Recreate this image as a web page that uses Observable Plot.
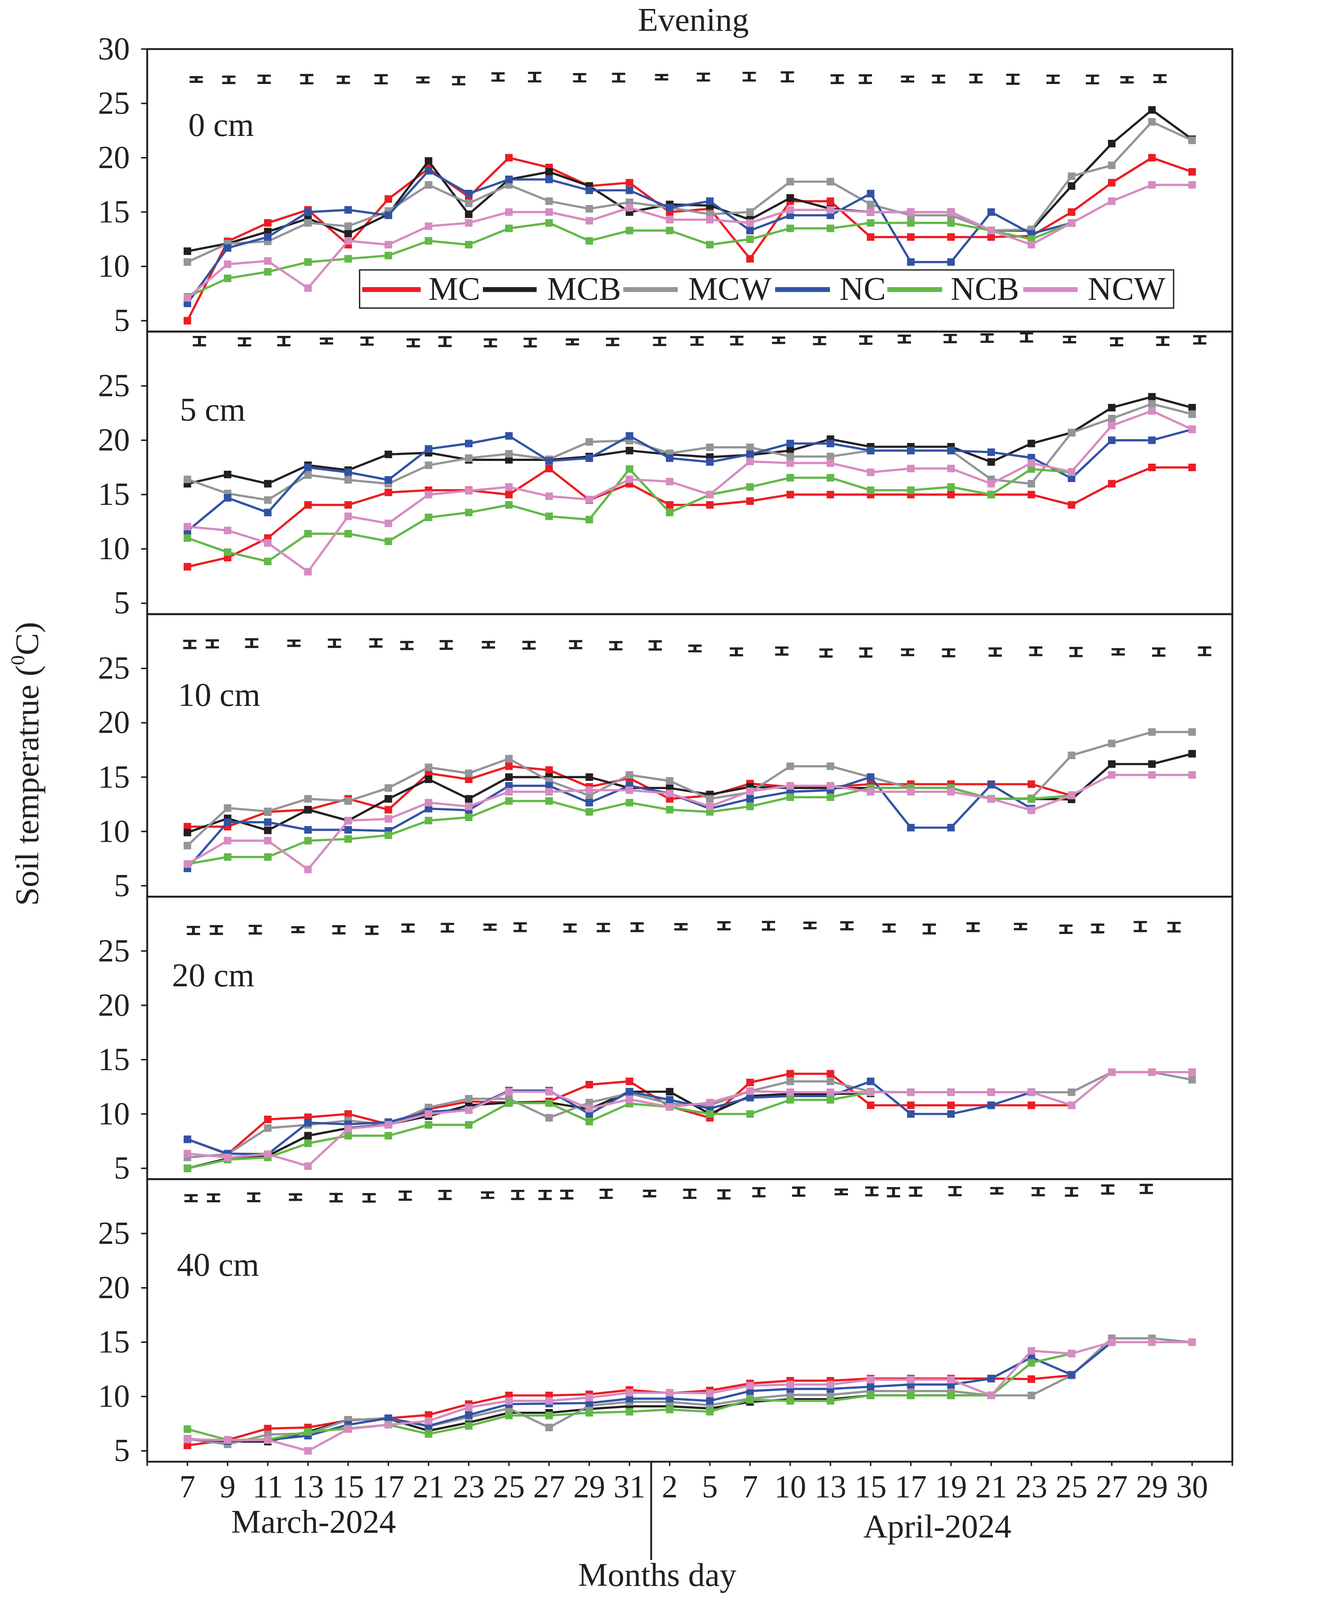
<!DOCTYPE html>
<html>
<head>
<meta charset="utf-8">
<script src="https://cdn.jsdelivr.net/npm/d3@7"></script>
<script src="https://cdn.jsdelivr.net/npm/@observablehq/plot@0.6"></script>
<style>
  html, body { margin: 0; padding: 0; background: #ffffff; overflow: hidden; }
  #wrap { position: relative; width: 3371px; height: 4321px; font-family: "Liberation Serif", "Times New Roman", serif; color: #231f20; background: #fff; transform-origin: 0 0; }
  #wrap > svg { display: block; max-width: none !important; }
</style>
</head>
<body>
<div id="wrap"></div>
<script>
// ---------------- categories / labels ----------------
const days = ["7","9","11","13","15","17","21","23","25","27","29","31","2","5","7","10","13","15","17","19","21","23","25","27","29","30"];
const series = ["MC","MCB","MCW","NC","NCB","NCW"];
const seriesColors = ["#ed1c24","#231f20","#939598","#3153a4","#63b847","#d68bc1"];
const depths = ["0 cm","5 cm","10 cm","20 cm","40 cm"];
const months = ["March-2024","April-2024"];
const monthCenters = [3.14, 18.66];
const monthBoundary = 11.54;
const xTitle = "Months day";
const xTitleCenter = 11.69;
const chartTitle = "Evening";
const yTitle = "Soil temperatrue (";
const yTitleSup = "0";
const yTitleEnd = "C)";

// ---------------- 0 cm ----------------
const MC_0  = [5.0,12.3,14.0,15.2,12.0,16.2,19.0,16.4,20.0,19.1,17.4,17.7,15.0,15.3,10.7,16.0,16.0,12.7,12.7,12.7,12.7,12.8,15.0,17.7,20.0,18.7];
const MCB_0 = [11.4,12.1,13.2,14.4,13.0,14.8,19.7,14.8,18.0,18.7,17.4,15.0,15.7,15.6,14.3,16.3,15.3,15.0,15.0,15.0,13.3,13.3,17.4,21.3,24.4,21.7];
const MCW_0 = [10.4,12.1,12.3,14.0,13.7,15.1,17.5,15.8,17.5,16.0,15.3,15.9,15.4,14.8,15.0,17.8,17.8,15.7,14.7,14.7,13.3,13.4,18.3,19.3,23.3,21.6];
const NC_0  = [6.6,11.7,12.7,15.0,15.2,14.7,18.8,16.7,18.0,18.0,17.0,17.0,15.4,16.0,13.3,14.7,14.7,16.7,10.4,10.4,15.0,13.0,14.0,null,null,null];
const NCB_0 = [7.2,8.9,9.5,10.4,10.7,11.0,12.35,12.0,13.5,14.0,12.35,13.3,13.3,12.0,12.5,13.5,13.5,14.0,14.0,14.0,13.3,12.5,14.0,null,null,null];
const NCW_0 = [7.1,10.2,10.5,8.0,12.35,12.0,13.7,14.0,15.0,15.0,14.2,15.4,14.3,14.3,14.0,15.2,15.2,15.0,15.0,15.0,13.3,12.0,14.0,16.0,17.5,17.5];
const ebX_0 = [0.22,1.03,1.91,2.97,3.88,4.82,5.86,6.75,7.73,8.64,9.76,10.73,11.8,12.84,13.98,14.93,16.17,16.87,17.92,18.69,19.62,20.54,21.54,22.52,23.38,24.2];
const ebM_0 = [27.2,27.17,27.22,27.23,27.17,27.22,27.16,27.09,27.43,27.42,27.36,27.37,27.41,27.42,27.46,27.44,27.23,27.23,27.24,27.24,27.29,27.22,27.22,27.2,27.17,27.28];
const ebE_0 = [0.21,0.29,0.33,0.38,0.29,0.37,0.22,0.33,0.33,0.39,0.33,0.35,0.2,0.31,0.35,0.41,0.35,0.35,0.22,0.31,0.35,0.41,0.33,0.35,0.24,0.31];

// ---------------- 5 cm ----------------
const MC_5  = [8.36,9.2,11.0,14.05,14.05,15.2,15.4,15.4,15.0,17.4,14.5,16.0,14.05,14.05,14.4,15.0,15.0,15.0,15.0,15.0,15.0,15.0,14.05,16.0,17.5,17.5];
const MCB_5 = [16.0,16.85,16.0,17.7,17.25,18.7,18.85,18.2,18.2,18.2,18.5,19.05,18.7,18.45,18.65,19.05,20.1,19.4,19.4,19.4,18.0,19.7,20.7,23.0,24.0,23.0];
const MCW_5 = [16.4,15.1,14.5,16.8,16.35,16.0,17.7,18.35,18.75,18.25,19.85,19.97,18.8,19.35,19.35,18.5,18.5,19.05,19.05,19.05,16.4,16.0,20.7,22.0,23.35,22.4];
const NC_5  = [11.65,14.7,13.35,17.5,17.05,16.35,19.2,19.7,20.4,18.1,18.35,20.4,18.35,18.0,18.7,19.7,19.7,19.05,19.05,19.05,18.9,18.4,16.5,20.0,20.0,21.0];
const NCB_5 = [11.0,9.7,8.85,11.4,11.4,10.7,12.9,13.35,14.05,13.0,12.7,17.35,13.35,15.0,15.7,16.55,16.55,15.4,15.4,15.7,15.0,17.35,17.05,null,null,null];
const NCW_5 = [12.05,11.7,10.55,7.9,13.0,12.35,15.0,15.35,15.7,14.85,14.55,16.4,16.2,15.0,18.05,17.9,17.9,17.05,17.4,17.4,16.0,17.9,17.1,21.35,22.7,21.0];
const ebX_5 = [0.30,1.42,2.40,3.46,4.47,5.62,6.41,7.54,8.53,9.58,10.58,11.75,12.68,13.67,14.71,15.73,16.88,17.84,18.98,19.9,20.88,21.95,23.12,24.27,25.19];
const ebM_5 = [29.12,29.05,29.12,29.13,29.12,28.96,29.08,28.96,28.99,29.05,29.05,29.1,29.14,29.17,29.2,29.17,29.22,29.31,29.36,29.4,29.47,29.27,29.06,29.13,29.24];
const ebE_5 = [0.38,0.32,0.38,0.22,0.32,0.31,0.4,0.31,0.35,0.22,0.29,0.33,0.35,0.35,0.24,0.32,0.34,0.31,0.33,0.34,0.38,0.25,0.32,0.35,0.33];

// ---------------- 10 cm ----------------
const MC_10  = [10.44,10.44,11.8,12.0,13.0,12.0,15.35,14.8,16.0,15.65,14.1,14.9,13.0,13.3,14.4,14.1,14.1,14.35,14.35,14.35,14.35,14.35,13.3,null,null,null];
const MCB_10 = [9.9,11.2,10.1,12.0,11.0,13.0,14.8,13.0,15.0,15.0,15.0,14.0,14.0,13.4,14.1,14.0,14.0,14.0,14.0,14.0,13.0,13.0,12.95,16.2,16.2,17.15];
const MCW_10 = [8.7,12.15,11.85,13.0,12.8,14.0,15.9,15.35,16.7,14.65,13.3,15.2,14.65,13.0,13.6,16.0,16.0,15.0,14.0,14.0,13.0,13.05,17.0,18.1,19.15,19.15];
const NC_10  = [6.6,10.85,10.85,10.15,10.15,10.05,12.1,11.95,14.2,14.2,12.65,14.2,13.5,12.1,13.0,13.65,13.8,15.0,10.35,10.35,14.3,12.1,null,null,null,null];
const NCB_10 = [7.0,7.65,7.65,9.15,9.3,9.65,11.0,11.3,12.8,12.8,11.8,12.65,12.0,11.8,12.3,13.15,13.15,14.0,14.0,14.0,13.0,13.0,13.3,null,null,null];
const NCW_10 = [7.0,9.15,9.15,6.5,11.0,11.15,12.65,12.3,13.65,13.65,13.8,13.8,13.5,12.3,13.7,14.2,14.2,13.65,13.65,13.65,13.0,11.95,13.35,15.2,15.2,15.2];
const ebX_10 = [0.06,0.62,1.6,2.65,3.66,4.69,5.46,6.44,7.49,8.5,9.66,10.66,11.64,12.63,13.66,14.79,15.89,16.88,17.92,18.94,20.1,21.11,22.11,23.16,24.17,25.31];
const ebM_10 = [27.21,27.26,27.33,27.32,27.32,27.35,27.11,27.16,27.18,27.14,27.19,27.09,27.12,26.84,26.53,26.6,26.42,26.47,26.49,26.44,26.51,26.58,26.51,26.53,26.51,26.58];
const ebE_10 = [0.33,0.32,0.35,0.24,0.33,0.33,0.32,0.35,0.25,0.3,0.32,0.33,0.37,0.26,0.31,0.32,0.32,0.37,0.26,0.31,0.33,0.35,0.37,0.24,0.33,0.35];

// ---------------- 20 cm ----------------
const MC_20  = [7.67,6.3,9.5,9.7,10.0,9.05,10.45,11.15,11.05,11.15,12.7,13.0,10.7,9.65,12.9,13.7,13.7,10.8,10.8,10.8,10.8,10.8,10.8,null,null,null];
const MCB_20 = [5.0,5.9,6.15,8.0,8.7,9.05,9.8,10.8,11.05,11.05,10.45,12.05,12.05,10.0,11.65,11.85,11.85,11.9,null,null,null,null,null,null,null,null];
const MCW_20 = [6.0,6.3,8.7,9.0,9.4,9.0,10.6,11.4,11.4,9.65,11.05,11.9,10.95,10.8,12.1,13.0,13.0,12.05,12.0,12.0,12.0,12.0,12.0,13.85,13.85,13.15];
const NC_20  = [7.67,6.35,6.3,9.2,9.05,9.25,10.2,10.4,12.15,12.15,10.0,12.05,11.3,10.5,11.5,11.65,11.65,13.0,10.0,10.0,10.8,12.0,null,null,null,null];
const NCB_20 = [5.0,5.8,6.0,7.3,8.0,8.0,9.0,9.0,11.0,11.0,9.3,10.95,10.65,10.0,10.0,11.3,11.3,12.0,null,null,null,null,null,null,null,null];
const NCW_20 = [6.35,6.0,6.3,5.2,8.65,9.0,10.0,10.35,12.05,12.05,10.5,11.35,10.65,11.05,12.1,12.0,12.0,12.0,12.0,12.0,12.0,12.0,10.8,13.85,13.85,13.85];
const ebX_20 = [0.15,0.72,1.69,2.75,3.77,4.59,5.49,6.47,7.53,8.28,9.52,10.35,11.19,12.28,13.35,14.46,15.49,16.41,17.46,18.46,19.55,20.73,21.86,22.65,23.71,24.55];
const ebM_20 = [26.89,26.93,26.96,26.96,26.95,26.91,27.11,27.14,27.19,27.19,27.11,27.16,27.19,27.23,27.32,27.32,27.35,27.32,27.11,27.02,27.19,27.25,27.0,27.07,27.25,27.19];
const ebE_20 = [0.32,0.35,0.35,0.22,0.33,0.33,0.32,0.35,0.23,0.35,0.32,0.33,0.35,0.24,0.32,0.35,0.25,0.32,0.32,0.4,0.35,0.24,0.33,0.35,0.41,0.39];

// ---------------- 40 cm ----------------
const MC_40  = [5.5,6.0,7.05,7.15,7.8,8.0,8.3,9.3,10.1,10.1,10.2,10.6,10.3,10.55,11.2,11.45,11.45,11.65,11.65,11.65,11.65,11.6,11.95,null,null,null];
const MCB_40 = [6.1,5.85,5.85,6.75,7.85,7.95,6.85,7.6,8.5,8.5,8.85,9.1,9.1,8.9,9.5,9.75,9.75,10.1,10.1,10.1,10.1,null,null,null,null,null];
const MCW_40 = [6.1,5.6,6.5,6.6,7.85,7.95,7.25,8.1,8.9,7.15,9.15,9.5,9.5,9.2,9.8,10.15,10.15,10.5,10.5,10.5,10.1,10.1,11.95,15.35,15.35,15.0];
const NC_40  = [6.05,5.9,6.0,6.4,7.4,8.0,7.3,8.3,9.3,9.35,9.4,9.8,9.8,9.6,10.5,10.7,10.7,10.9,11.1,11.1,11.65,13.6,12.0,15.0,null,null];
const NCB_40 = [7.0,6.0,6.05,6.75,7.05,7.4,6.55,7.3,8.25,8.25,8.5,8.6,8.8,8.6,9.7,9.6,9.6,10.1,10.1,10.1,10.1,13.1,13.95,null,null,null];
const NCW_40 = [6.05,6.0,6.0,5.0,7.0,7.4,7.75,9.0,9.6,9.6,9.9,10.35,10.35,10.3,11.0,11.1,11.1,11.55,11.55,11.55,10.1,14.2,13.95,15.0,15.0,15.0];
const ebX_40 = [0.09,0.65,1.65,2.69,3.7,4.52,5.42,6.41,7.47,8.22,8.9,9.44,10.42,11.5,12.5,13.35,14.22,15.21,16.27,17.03,17.57,18.12,19.1,20.14,21.17,22.0,22.9,23.86];
const ebM_40 = [28.25,28.28,28.33,28.35,28.3,28.28,28.48,28.55,28.53,28.55,28.55,28.58,28.65,28.68,28.65,28.6,28.8,28.85,28.83,28.88,28.8,28.85,28.9,28.93,28.85,28.83,29.05,29.1];
const ebE_40 = [0.27,0.31,0.35,0.25,0.34,0.34,0.37,0.37,0.25,0.37,0.37,0.35,0.37,0.25,0.37,0.37,0.37,0.37,0.21,0.35,0.37,0.37,0.37,0.25,0.32,0.35,0.37,0.37];

// ---------------- assemble panels ----------------
const panels = [
  {vals: [MC_0, MCB_0, MCW_0, NC_0, NCB_0, NCW_0],       ebX: ebX_0,  ebM: ebM_0,  ebE: ebE_0},
  {vals: [MC_5, MCB_5, MCW_5, NC_5, NCB_5, NCW_5],       ebX: ebX_5,  ebM: ebM_5,  ebE: ebE_5},
  {vals: [MC_10, MCB_10, MCW_10, NC_10, NCB_10, NCW_10], ebX: ebX_10, ebM: ebM_10, ebE: ebE_10},
  {vals: [MC_20, MCB_20, MCW_20, NC_20, NCB_20, NCW_20], ebX: ebX_20, ebM: ebM_20, ebE: ebE_20},
  {vals: [MC_40, MCB_40, MCW_40, NC_40, NCB_40, NCW_40], ebX: ebX_40, ebM: ebM_40, ebE: ebE_40}
];

// ---------------- layout (pixels) ----------------
const W = 3371, H = 4321, ML = 397, MR = 44, PH = 763, TOPM = 132, BOTM = 374;
const labelOffsets = [[111,235],[88,241],[83,248],[67,242],[80,261]];
const capHalf = 0.165;
const ink = "#231f20";
const FONT = "'Liberation Serif', 'Times New Roman', serif";

const wrap = document.getElementById("wrap");

panels.forEach((p, k) => {
  const first = k === 0, last = k === panels.length - 1;
  const mt = first ? TOPM : 0, mb = last ? BOTM : 0;
  const eb = p.ebX.map((x, n) => ({x, m: p.ebM[n], e: p.ebE[n]}));
  const marks = [];
  marks.push(Plot.axisY(first ? [5,10,15,20,25,30] : [5,10,15,20,25],
    {tickSize: 16, tickPadding: 31, strokeWidth: 4, fontSize: 86, label: null, stroke: ink, fill: ink}));
  // error bars
  marks.push(Plot.ruleX(eb, {x: "x", y1: d => d.m - d.e, y2: d => d.m + d.e, stroke: ink, strokeWidth: 8}));
  marks.push(Plot.link(eb, {x1: d => d.x - capHalf, x2: d => d.x + capHalf, y1: d => d.m - d.e, y2: d => d.m - d.e, stroke: ink, strokeWidth: 6}));
  marks.push(Plot.link(eb, {x1: d => d.x - capHalf, x2: d => d.x + capHalf, y1: d => d.m + d.e, y2: d => d.m + d.e, stroke: ink, strokeWidth: 6}));
  // series
  series.forEach((s, j) => {
    const rows = p.vals[j].map((v, i) => ({s, i, v}));
    marks.push(Plot.line(rows, {x: "i", y: "v", stroke: "s", strokeWidth: 6}));
    marks.push(Plot.dot(rows.filter(r => r.v != null), {x: "i", y: "v", fill: "s", symbol: "square", r: 11.5}));
  });
  // depth label
  marks.push(Plot.text([depths[k]], {frameAnchor: "top-left", dx: labelOffsets[k][0], dy: labelOffsets[k][1],
    textAnchor: "start", lineAnchor: "bottom", fontSize: 90, fill: ink}));
  marks.push(Plot.frame({stroke: ink, strokeWidth: 5}));
  if (last) {
    const xt = [-1, ...d3.range(days.length), days.length];
    marks.push(Plot.axisX(xt, {tickSize: 12, tickPadding: 23, strokeWidth: 4, fontSize: 86, label: null,
      stroke: ink, fill: ink, tickFormat: i => (i >= 0 && i < days.length) ? days[i] : ""}));
    const pxPerUnit = PH / 26;
    marks.push(Plot.ruleX([monthBoundary], {y1: 4, y2: 4 - 266 / pxPerUnit, stroke: ink, strokeWidth: 5}));
    marks.push(Plot.text([months[0]], {x: [monthCenters[0]], frameAnchor: "bottom", dy: 192, lineAnchor: "bottom", fontSize: 90, fill: ink}));
    marks.push(Plot.text([months[1]], {x: [monthCenters[1]], frameAnchor: "bottom", dy: 205, lineAnchor: "bottom", fontSize: 90, fill: ink}));
    marks.push(Plot.text([xTitle], {x: [xTitleCenter], frameAnchor: "bottom", dy: 336, lineAnchor: "bottom", fontSize: 90, fill: ink}));
  }
  const svg = Plot.plot({
    width: W, height: mt + PH + mb,
    marginLeft: ML, marginRight: MR, marginTop: mt, marginBottom: mb,
    x: {domain: [-1, 26], axis: null},
    y: {domain: [4, 30], axis: null},
    color: {domain: series, range: seriesColors},
    style: {fontFamily: FONT, fontSize: "86px", color: ink, background: "transparent", overflow: "visible", maxWidth: "none"},
    marks
  });
  wrap.appendChild(svg);
});

// ---------------- titles and legend overlay ----------------
const ov = d3.select(wrap).append("svg")
  .attr("width", W).attr("height", H)
  .style("position", "absolute").style("left", 0).style("top", 0)
  .style("pointer-events", "none")
  .attr("font-family", FONT).attr("fill", ink);

ov.append("text").attr("x", 1872).attr("y", 83).attr("text-anchor", "middle").attr("font-size", 90).text(chartTitle);

const yt = ov.append("text").attr("transform", "translate(103,2063) rotate(-90)")
  .attr("text-anchor", "middle").attr("font-size", 90);
yt.append("tspan").text(yTitle);
yt.append("tspan").attr("font-size", 54).attr("dy", -38).text(yTitleSup);
yt.append("tspan").attr("dy", 38).text(yTitleEnd);

// legend box
const lg = {x: 971, y: 729, w: 2198, h: 103};
ov.append("rect").attr("x", lg.x).attr("y", lg.y).attr("width", lg.w).attr("height", lg.h)
  .attr("fill", "#fff").attr("stroke", ink).attr("stroke-width", 3.5);
const legendLineX = [[978,1136],[1304,1449],[1683,1830],[2093,2241],[2396,2544],[2763,2910]];
const legendTextX = [1157,1477,1858,2267,2567,2937];
series.forEach((s, j) => {
  ov.append("line").attr("x1", legendLineX[j][0]).attr("x2", legendLineX[j][1])
    .attr("y1", 782).attr("y2", 782).attr("stroke", seriesColors[j]).attr("stroke-width", 13);
  ov.append("text").attr("x", legendTextX[j]).attr("y", 810).attr("font-size", 90).text(s);
});

// ---------------- fit the whole figure inside the viewport ----------------
function fit() {
  const vw = document.documentElement.clientWidth || window.innerWidth;
  const vh = document.documentElement.clientHeight || window.innerHeight;
  const s = Math.min(vw / W, vh / H, 1);
  wrap.style.transform = s < 1 ? `scale(${s})` : "none";
}
fit();
window.addEventListener("resize", fit);
</script>
</body>
</html>
